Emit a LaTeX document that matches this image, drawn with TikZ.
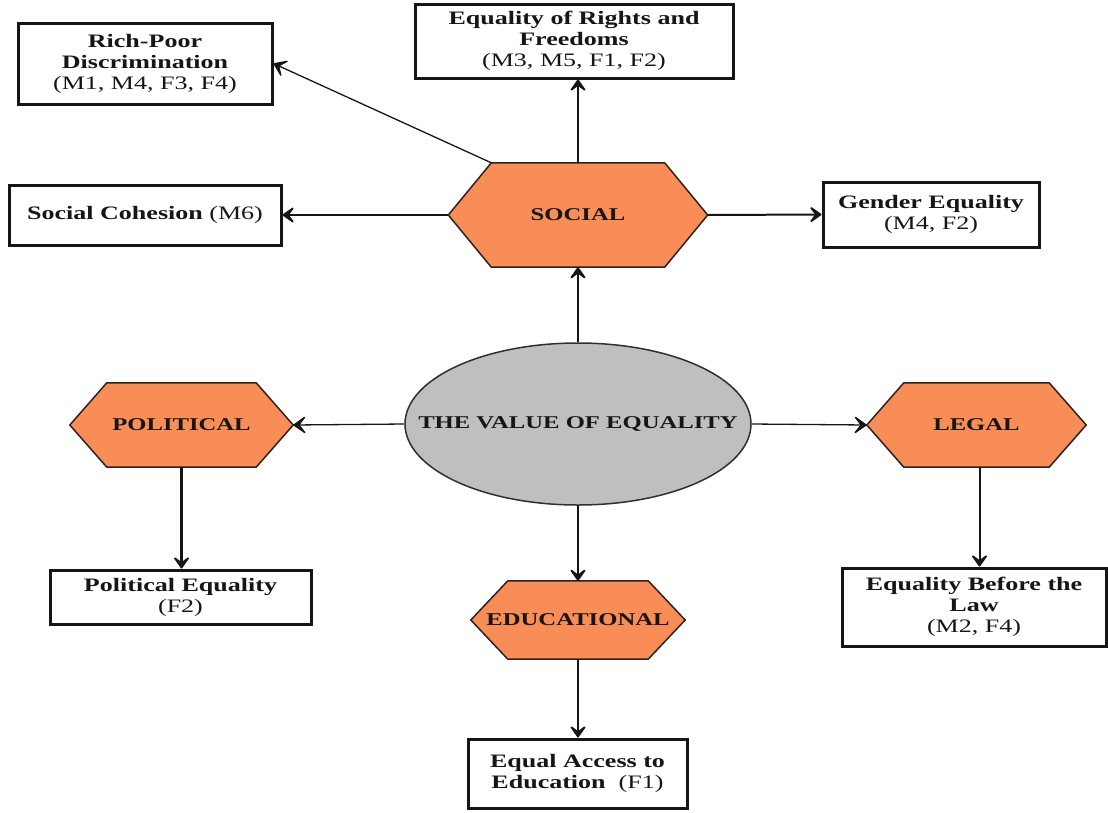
\documentclass[tikz,border=0pt]{standalone}
\usepackage{fontspec}
\setmainfont{Liberation Serif}[FakeStretch=1.37]
\usetikzlibrary{arrows.meta,shapes.geometric,calc,backgrounds}
\definecolor{hexfill}{RGB}{248,141,88}
\definecolor{ellfill}{RGB}{191,191,191}
\definecolor{ink}{RGB}{22,22,22}
\newcommand\hexpath[2]{%
  \filldraw[hexshape] (#1.west) -- ($(#1.north west)+(#2,0)$) -- ($(#1.north east)+(-#2,0)$) -- (#1.east) -- ($(#1.south east)+(-#2,0)$) -- ($(#1.south west)+(#2,0)$) -- cycle;}
\begin{document}
\begin{tikzpicture}[x=1pt,y=-1pt,
  box/.style={draw=ink, line width=3pt, fill=white, inner sep=0pt, align=center, text=ink, font=\fontsize{19}{21}\selectfont},
  hexnode/.style={inner sep=0pt, text=ink, font=\bfseries\fontsize{18}{21}\selectfont},
  hexshape/.style={fill=hexfill, draw=ink!90!hexfill, line width=1.5pt},
  tip/.style={-{Stealth[length=15pt,width=21pt,inset=8pt,round]}},
  thickarrow/.style={tip, line width=2.6pt, draw=ink},
  midarrow/.style={tip, line width=2pt, draw=ink},
  thinarrow/.style={tip, line width=1.3pt, draw=ink},
]
\useasboundingbox (0,0) rectangle (1108,812);

% outcome boxes
\node[box, minimum width=254, minimum height=81] (rich) at (145,63.5) {\textbf{Rich-Poor}\\\textbf{Discrimination}\\(M1, M4, F3, F4)};
\node[box, minimum width=318, minimum height=74] (rights) at (574,41) {\textbf{Equality of Rights and}\\\textbf{Freedoms}\\(M3, M5, F1, F2)};
\node[box, minimum width=272, minimum height=60] (cohesion) at (145,215) {\textbf{Social Cohesion} (M6)};
\node[box, minimum width=216, minimum height=65] (gender) at (931,214.5) {\textbf{Gender Equality}\\(M4, F2)};
\node[box, minimum width=261, minimum height=54] (poleq) at (180.5,597) {\textbf{Political Equality}\\(F2)};
\node[box, minimum width=264, minimum height=78] (law) at (974,607) {\textbf{Equality Before the}\\\textbf{Law}\\(M2, F4)};
\node[box, minimum width=219, minimum height=69] (access) at (577.5,773.5) {\textbf{Equal Access to}\\\textbf{Education}\ \ (F1)};

% hexagon nodes (outline drawn on background layer)
\node[hexnode, minimum width=259, minimum height=104] (social) at (578,215) {SOCIAL};
\node[hexnode, minimum width=223, minimum height=84] (political) at (181.5,425) {POLITICAL};
\node[hexnode, minimum width=219, minimum height=84] (legal) at (976.5,425) {LEGAL};
\node[hexnode, minimum width=214, minimum height=78] (educ) at (578,620) {EDUCATIONAL};

% central ellipse
\node[ellipse, draw=ink!85!ellfill, fill=ellfill, line width=1.5pt, inner sep=0pt, minimum width=346, minimum height=162] (core) at (578,424) {};
\node[hexnode] (coretext) at (core.center) {THE VALUE OF EQUALITY};

\begin{pgfonlayer}{background}
\hexpath{social}{43}
\hexpath{political}{37}
\hexpath{legal}{37}
\hexpath{educ}{37}
\end{pgfonlayer}

\coordinate (socialNW) at ($(social.north west)+(43,0)$);
\coordinate (legalout) at ($(legal.south)+(3,0)$);

% connectors
\draw[thickarrow] (core.north) -- (social.south);
\draw[thickarrow] (social.north) -- (social.north |- rights.south);
\draw[thinarrow] (socialNW) -- (rich.east);
\draw[midarrow] (social.west) -- (cohesion.east);
\draw[midarrow] (social.east) -- (gender.west);
\draw[thinarrow] (core.west) -- (political.east);
\draw[thinarrow] (core.east) -- (legal.west);
\draw[thickarrow] (core.south) -- (educ.north);
\draw[thickarrow] (political.south) -- (political.south |- poleq.north);
\draw[midarrow] (legalout) -- (legalout |- law.north);
\draw[thickarrow] (educ.south) -- (educ.south |- access.north);
\end{tikzpicture}
\end{document}
